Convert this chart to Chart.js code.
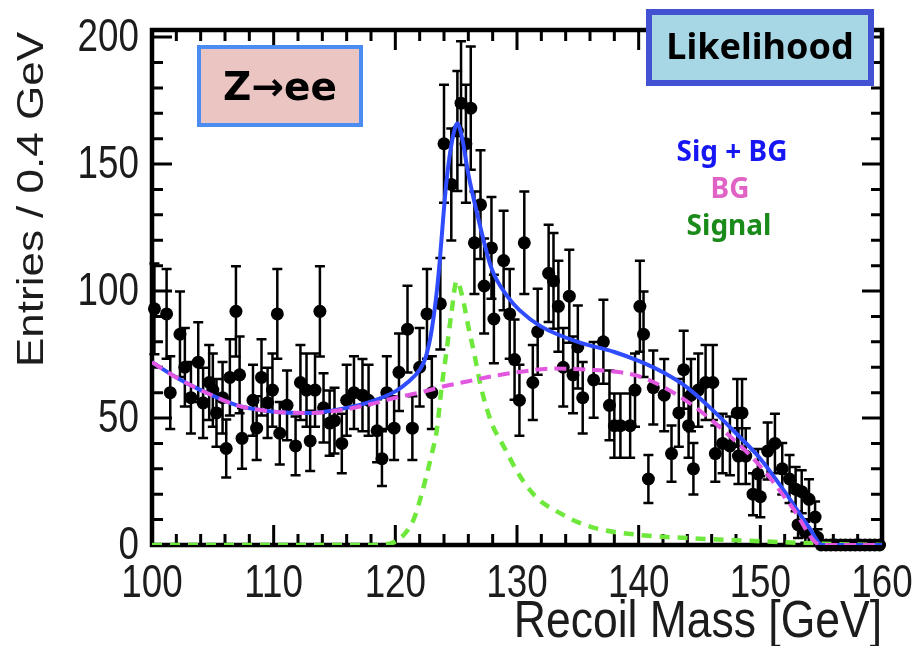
<!DOCTYPE html>
<html>
<head>
<meta charset="utf-8">
<title>Recoil mass - Z to ee</title>
<script src="https://cdn.jsdelivr.net/npm/chart.js@4.4.1/dist/chart.umd.min.js"></script>
<style>
  html, body { margin: 0; padding: 0; background: #fff; }
  #wrap { width: 916px; height: 646px; }
</style>
</head>
<body>
<div id="wrap"><canvas id="recoilChart" width="916" height="646"></canvas></div>
<script>
// measured entries (bin centre in GeV, entries per 0.4 GeV)
const massPts = [
  100.2, 101.2, 101.5, 102.3, 102.7, 103.2, 103.8, 104.2, 104.7, 105.0,
  105.3, 105.8, 106.1, 106.4, 106.9, 107.2, 107.4, 108.3, 108.6, 109.0,
  109.5, 109.9, 110.3, 110.5, 111.1, 111.8, 112.2, 112.7, 113.0, 113.4,
  113.8, 114.1, 114.6, 115.0, 115.6, 116.0, 116.6, 117.3, 117.8, 118.5,
  118.9, 119.3, 119.9, 120.3, 121.0, 121.4, 122.0, 122.6, 123.0, 123.7,
  124.0, 124.6, 125.1, 125.4, 125.8, 126.2, 126.5, 127.0, 127.3, 127.9,
  128.1, 128.9, 129.4, 129.8, 130.2, 130.6, 131.3, 131.7, 132.6, 133.0,
  133.4, 133.8, 134.3, 134.6, 135.0, 135.4, 136.3, 137.1, 137.6, 138.0,
  138.5, 139.3, 139.7, 140.1, 140.4, 140.8, 141.2, 142.1, 142.7, 143.3,
  143.7, 144.1, 144.3, 144.5, 144.9, 145.5, 146.1, 146.3, 146.9, 147.5,
  148.1, 148.2, 148.5, 148.8, 149.4, 149.8, 150.0, 150.6, 151.2, 151.8,
  152.4, 152.9, 153.1, 153.4, 153.7, 154.0, 154.5, 154.7,
  155.0, 155.4, 155.8, 156.2, 156.6, 157.0, 157.4, 157.8, 158.2, 158.6,
  159.0, 159.4, 159.8
];
const countPts = [
  93, 91, 60, 83, 70, 58, 72, 56, 64, 61,
  52, 58, 38, 66, 92, 67, 42, 57, 46, 66,
  56, 61, 91, 44, 55, 39, 64, 61, 41, 61,
  92, 54, 48, 49, 40, 57, 60, 59, 57, 45,
  34, 60, 46, 68, 85, 46, 70, 91, 60, 95,
  158, 142, 163, 174, 158, 172, 119, 134, 102, 117,
  89, 112, 91, 73, 57, 119, 64, 84, 107, 104,
  94, 70, 98, 67, 78, 58, 65, 80, 55, 47,
  47, 47, 61, 94, 83, 26, 62, 59, 36, 52,
  69, 47, 59, 30, 61, 64, 64, 36, 40, 39,
  52, 35, 52, 35, 20, 28, 19, 37, 40, 30,
  26, 22, 8, 21, 5, 18, 11, 3,
  0, 0, 0, 0, 0, 0, 0, 0, 0, 0,
  0, 0, 0
];
// error bar size relative to sqrt(entries)
const ERR_K = 1.85;

// fitted curves
const sigBgMass = [100, 102, 104, 107, 110, 113, 116, 118, 120, 121, 122, 122.5, 123, 123.5, 124.2, 124.7, 125.1, 125.5, 126, 126.7, 127.9, 129.2, 130.2, 132, 135, 138, 140, 142, 144, 146, 148, 150, 152, 154, 155.1, 160];
const sigBgVal  = [72, 66, 61, 55, 52.5, 52, 54, 56.5, 60.5, 64, 69, 74, 85, 104, 143, 160, 166, 160, 146, 131, 109, 98, 92.5, 86, 80, 76, 72.5, 68, 62, 53.5, 44, 34, 21, 7, 0, 0];

const bgMass = [100, 102, 104, 107, 110, 113, 116, 118, 120, 122, 124, 126, 128, 130, 133, 136, 138.5, 140, 141.5, 144, 147, 150, 152.6, 155, 160];
const bgVal  = [72, 66, 61, 55, 52.5, 52, 53.5, 55.5, 58, 60, 62.5, 64.5, 66.5, 68, 69.5, 69, 68, 66.5, 63.5, 56.5, 45, 31, 15, 0, 0];

const sigMass = [100, 118, 119.5, 120.5, 121.5, 122.1, 123.0, 123.4, 123.8, 124.2, 124.6, 125.05, 125.5, 126, 126.5, 127, 127.5, 128, 129, 130, 131, 132, 133, 135, 137, 140, 145, 150, 155, 160];
const sigVal  = [0, 0, 0.5, 3, 10, 19, 36, 45, 62, 76, 91, 104, 98, 86, 75, 63, 54, 47, 38, 29, 22, 17, 14, 9, 6, 4, 2.5, 1.5, 0.5, 0];

const xTicks = [100, 110, 120, 130, 140, 150, 160];
const yTicks = [0, 50, 100, 150, 200];
const xTitle = 'Recoil Mass [GeV]';
const yTitle = 'Entries / 0.4 GeV';

const toXY = (xs, ys) => xs.map((x, i) => ({ x: x, y: ys[i] }));

const SANS = "'Liberation Sans', Arial, sans-serif";
const TEXT_COL = '#1c1c1c';

// black frame with inward major/minor ticks on all four sides
const frameTicks = {
  id: 'frameTicks',
  beforeDatasetsDraw(chart) {
    const { ctx, chartArea: a, scales: { x, y } } = chart;
    ctx.save();
    ctx.strokeStyle = '#000';
    ctx.lineWidth = 3;
    ctx.beginPath();
    for (let m = 100; m <= 160; m += 2) {
      const px = x.getPixelForValue(m);
      const len = m % 10 === 0 ? 20 : 11;
      ctx.moveTo(px, a.bottom); ctx.lineTo(px, a.bottom - len);
      ctx.moveTo(px, a.top); ctx.lineTo(px, a.top + len);
    }
    for (let v = 0; v <= 200; v += 10) {
      const py = y.getPixelForValue(v);
      const len = v % 50 === 0 ? 20 : 11;
      ctx.moveTo(a.left, py); ctx.lineTo(a.left + len, py);
      ctx.moveTo(a.right, py); ctx.lineTo(a.right - len, py);
    }
    ctx.stroke();
    ctx.lineWidth = 4.5;
    ctx.strokeRect(a.left, a.top, a.right - a.left, a.bottom - a.top);
    ctx.restore();
  }
};

// vertical error bars with caps behind the data dots
const errorBars = {
  id: 'errorBars',
  beforeDatasetsDraw(chart) {
    const { ctx, scales: { x, y } } = chart;
    ctx.save();
    ctx.strokeStyle = '#000';
    ctx.lineWidth = 2.5;
    ctx.beginPath();
    massPts.forEach((m, i) => {
      const n = countPts[i];
      if (n <= 0) return;
      const err = ERR_K * Math.sqrt(n);
      const px = x.getPixelForValue(m);
      const top = y.getPixelForValue(n + err);
      const bot = y.getPixelForValue(Math.max(n - err, 0));
      ctx.moveTo(px, top); ctx.lineTo(px, bot);
      ctx.moveTo(px - 5, top); ctx.lineTo(px + 5, top);
      ctx.moveTo(px - 5, bot); ctx.lineTo(px + 5, bot);
    });
    ctx.stroke();
    ctx.restore();
  }
};

// tick labels and titles in a condensed, tall style (like the original figure)
function squeezedText(ctx, txt, px, py, sx, sy, rot) {
  ctx.save();
  ctx.translate(px, py);
  if (rot) ctx.rotate(rot);
  ctx.scale(sx, sy);
  ctx.fillText(txt, 0, 0);
  ctx.restore();
}

const axisText = {
  id: 'axisText',
  afterDraw(chart) {
    const { ctx, chartArea: a, scales: { x, y } } = chart;
    ctx.save();
    ctx.fillStyle = TEXT_COL;
    ctx.font = '46px ' + SANS;
    ctx.textAlign = 'center';
    ctx.textBaseline = 'alphabetic';
    x.ticks.forEach(t => {
      squeezedText(ctx, String(t.value), x.getPixelForValue(t.value), a.bottom + 52, 0.8, 1, 0);
    });
    ctx.textAlign = 'right';
    ctx.textBaseline = 'middle';
    y.ticks.forEach(t => {
      squeezedText(ctx, String(t.value), a.left - 13, y.getPixelForValue(t.value) + 1, 0.8, 1, 0);
    });
    // x title, right aligned to the frame
    ctx.font = '52px ' + SANS;
    ctx.textAlign = 'right';
    ctx.textBaseline = 'alphabetic';
    squeezedText(ctx, xTitle, a.right, 637, 0.855, 1, 0);
    // y title, rotated, ending near the top of the frame
    ctx.font = '44px ' + SANS;
    ctx.textAlign = 'right';
    ctx.textBaseline = 'alphabetic';
    squeezedText(ctx, yTitle, 43, a.top + 2, 1, 0.85, -Math.PI / 2);
    ctx.restore();
  }
};

// labelled boxes and the coloured curve names
const annotations = {
  id: 'annotations',
  afterDraw(chart) {
    const ctx = chart.ctx;
    ctx.save();
    // Z -> ee box
    ctx.fillStyle = '#ebc5c1';
    ctx.fillRect(199, 47, 162, 78);
    ctx.strokeStyle = '#4a8cf2';
    ctx.lineWidth = 4;
    ctx.strokeRect(199, 47, 162, 78);
    ctx.fillStyle = '#000';
    ctx.font = "bold 39px 'DejaVu Sans', sans-serif";
    ctx.textAlign = 'center';
    ctx.textBaseline = 'middle';
    ctx.fillText('Z\u2192ee', 280, 90);

    // Likelihood box
    ctx.fillStyle = '#a7d7e4';
    ctx.fillRect(649, 12, 222, 71);
    ctx.strokeStyle = '#4252d2';
    ctx.lineWidth = 6;
    ctx.strokeRect(649, 12, 222, 71);
    ctx.fillStyle = '#000';
    ctx.font = "bold 36px 'Noto Sans', sans-serif";
    ctx.fillText('Likelihood', 760, 49);

    // curve names
    ctx.font = "bold 28px 'Noto Sans', sans-serif";
    ctx.fillStyle = '#1616f5';
    ctx.fillText('Sig + BG', 732, 153);
    ctx.fillStyle = '#e062c4';
    ctx.fillText('BG', 730, 190);
    ctx.fillStyle = '#1a8a1a';
    ctx.fillText('Signal', 729, 227);
    ctx.restore();
  }
};

const ctx = document.getElementById('recoilChart').getContext('2d');
new Chart(ctx, {
  type: 'scatter',
  data: {
    datasets: [
      {
        label: 'Sig + BG',
        data: toXY(sigBgMass, sigBgVal),
        showLine: true,
        borderColor: '#2f4dff',
        borderWidth: 4,
        pointRadius: 0,
        cubicInterpolationMode: 'monotone',
        order: 2
      },
      {
        label: 'BG',
        data: toXY(bgMass, bgVal),
        showLine: true,
        borderColor: '#e257e0',
        borderWidth: 4,
        borderDash: [12, 7],
        pointRadius: 0,
        cubicInterpolationMode: 'monotone',
        order: 1
      },
      {
        label: 'Signal',
        data: toXY(sigMass, sigVal),
        showLine: true,
        borderColor: '#6fe83c',
        borderWidth: 4.5,
        borderDash: [10, 8],
        pointRadius: 0,
        cubicInterpolationMode: 'monotone',
        order: 3
      },
      {
        label: 'Data',
        data: toXY(massPts, countPts),
        showLine: false,
        pointRadius: 6.5,
        pointBackgroundColor: '#000',
        pointBorderWidth: 0,
        clip: false,
        order: 4
      }
    ]
  },
  options: {
    responsive: false,
    animation: false,
    layout: { padding: { left: 0, right: 34, top: 30, bottom: 0 } },
    plugins: {
      legend: { display: false },
      tooltip: { enabled: false }
    },
    scales: {
      x: {
        type: 'linear',
        min: 100,
        max: 160,
        afterBuildTicks: (s) => { s.ticks = xTicks.map(v => ({ value: v })); },
        afterFit: (s) => { s.height = 101; },
        grid: { display: false, drawTicks: false },
        border: { display: false },
        ticks: { display: false },
        title: { display: false, text: xTitle }
      },
      y: {
        min: 0,
        max: 202.8,
        afterBuildTicks: (s) => { s.ticks = yTicks.map(v => ({ value: v })); },
        afterFit: (s) => { s.width = 152; },
        grid: { display: false, drawTicks: false },
        border: { display: false },
        ticks: { display: false },
        title: { display: false, text: yTitle }
      }
    }
  },
  plugins: [frameTicks, errorBars, axisText, annotations]
});
</script>
</body>
</html>
